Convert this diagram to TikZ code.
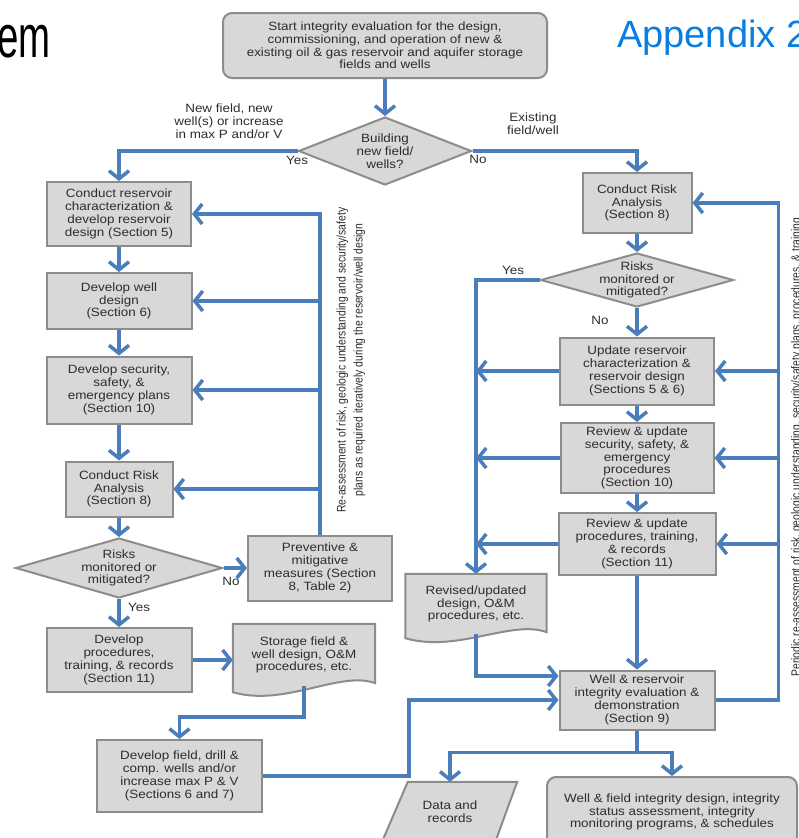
\documentclass[tikz,border=0pt]{standalone}
\usepackage{fontspec}
\setmainfont{Liberation Sans}[FakeStretch=1.12]
\newfontfamily\titlefont{Liberation Sans}
\newfontfamily\squeezefont{Liberation Sans}[FakeStretch=0.64]
\newfontfamily\narrowfont{Liberation Sans}[FakeStretch=0.83]
\usetikzlibrary{arrows.meta,shapes.geometric,calc}
\pgfdeclarelayer{bg}
\pgfsetlayers{bg,main}
\definecolor{flowblue}{RGB}{74,126,187}
\definecolor{boxgray}{RGB}{216,216,216}
\definecolor{edgegray}{RGB}{140,140,140}
\definecolor{titleblue}{RGB}{10,125,225}
\definecolor{txtgray}{RGB}{45,45,45}
\tikzset{
	box/.style={draw=edgegray, fill=boxgray, line width=2pt, align=center, inner sep=0pt, text=txtgray, font=\fontsize{12}{12.8}\selectfont},
	rbox/.style={box, rounded corners=9pt},
	decide/.style={box, diamond},
	doc/.style={align=center, inner sep=0pt, text=txtgray, font=\fontsize{12}{12.8}\selectfont},
	docshape/.style={draw=edgegray, fill=boxgray, line width=2pt},
	lbl/.style={align=center, inner sep=0pt, text=txtgray, font=\fontsize{12}{12.8}\selectfont},
	sidenote/.style={align=center, inner sep=0pt, text=txtgray, rotate=90, font=\narrowfont\fontsize{12.5}{17}\selectfont},
	wire/.style={draw=flowblue, line width=3.5pt},
	flow/.style={wire, -{Straight Barb[length=8pt,width=20pt]}},
}
\begin{document}
\begin{tikzpicture}[x=1pt,y=-1pt]
	\useasboundingbox (0,0) rectangle (798,838);
	\clip (0,0) rectangle (798,838);

	\node[anchor=base east, inner sep=0pt, font=\squeezefont\fontsize{60}{60}\selectfont] (sysword) at (51,57) {em};
	\node[anchor=base west, inner sep=0pt, text=titleblue, font=\titlefont\fontsize{38}{38}\selectfont] (appx) at (617,47) {Appendix 2};

	\node[rbox, minimum width=324, minimum height=65] (start) at (385,45.5) {Start integrity evaluation for the design,\\commissioning, and operation of new \&\\existing oil \& gas reservoir and aquifer storage\\fields and wells};
	\node[decide, minimum width=173, minimum height=68] (build) at (385,151) {};
	\node[lbl] (buildtxt) at (build) {Building\\new field/\\wells?};

	\node[box, minimum width=144, minimum height=64] (l1) at (119,214) {Conduct reservoir\\characterization \&\\develop reservoir\\design (Section 5)};
	\node[box, minimum width=145, minimum height=56] (l2) at (119,301) {Develop well\\design\\(Section 6)};
	\node[box, minimum width=145, minimum height=67] (l3) at (119,390) {Develop security,\\safety, \&\\emergency plans\\(Section 10)};
	\node[box, minimum width=107, minimum height=55] (l4) at (119,489) {Conduct Risk\\Analysis\\(Section 8)};
	\node[decide, minimum width=207, minimum height=60] (riskL) at (119,568) {};
	\node[lbl] (riskLtxt) at (riskL) {Risks\\monitored or\\mitigated?};
	\node[box, minimum width=144, minimum height=65] (prev) at (320,568) {Preventive \&\\mitigative\\measures (Section\\8, Table 2)};
	\node[box, minimum width=145, minimum height=64] (l5) at (119,660) {Develop\\procedures,\\training, \& records\\(Section 11)};
	\node[doc, minimum width=142, minimum height=62] (store) at (304,655) {Storage field \&\\well design, O\&M\\procedures, etc.};
	\node[box, minimum width=165, minimum height=72] (l6) at (179.5,776) {Develop field, drill \&\\comp. wells and/or\\increase max P \& V\\(Sections 6 and 7)};

	\node[box, minimum width=109, minimum height=60] (r1) at (637,203) {Conduct Risk\\Analysis\\(Section 8)};
	\node[decide, minimum width=193, minimum height=54] (riskR) at (637,280) {};
	\node[lbl] (riskRtxt) at (riskR) {Risks\\monitored or\\mitigated?};
	\node[box, minimum width=154, minimum height=67] (r2) at (637,371) {Update reservoir\\characterization \&\\reservoir design\\(Sections 5 \& 6)};
	\node[box, minimum width=153, minimum height=70] (r3) at (637,458) {Review \& update\\security, safety, \&\\emergency\\procedures\\(Section 10)};
	\node[box, minimum width=157, minimum height=62] (r4) at (637,544) {Review \& update\\procedures, training,\\\& records\\(Section 11)};
	\node[doc, minimum width=141, minimum height=60] (rev) at (476,604) {Revised/updated\\design, O\&M\\procedures, etc.};
	\node[box, minimum width=155, minimum height=59] (r5) at (637,700) {Well \& reservoir\\integrity evaluation \&\\demonstration\\(Section 9)};
	\node[doc, minimum width=110, minimum height=60] (data) at (450,812) {Data and\\records};
	\node[rbox, minimum width=250, minimum height=70] (final) at (672,812) {Well \& field integrity design, integrity\\status assessment, integrity\\monitoring programs, \& schedules};

	\begin{pgfonlayer}{bg}
		\draw[docshape] (store.north west) -- (store.north east) -- ($(store.south east)+(0,-3)$) .. controls +(-35,-13) and +(52,15) .. ($(store.south west)+(0,6)$) -- cycle;
		\draw[docshape] (rev.north west) -- (rev.north east) -- ($(rev.south east)+(0,-2)$) .. controls +(-35,-13) and +(52,15) .. ($(rev.south west)+(0,4)$) -- cycle;
		\draw[docshape] ($(data.north west)+(13,0)$) -- ($(data.north east)+(12,0)$) -- ($(data.south east)+(-10,0)$) -- ($(data.south west)+(-13,0)$) -- cycle;
	\end{pgfonlayer}

	\node[lbl] (newlbl) at (229,121) {New field, new\\well(s) or increase\\in max P and/or V};
	\node[lbl] (oldlbl) at (533,124) {Existing\\field/well};
	\node[lbl] (buildyes) at (297,160) {Yes};
	\node[lbl] (buildno) at (478,159) {No};
	\node[lbl] (riskLno) at (231,581) {No};
	\node[lbl] (riskLyes) at (139,607) {Yes};
	\node[lbl] (riskRyes) at (513,270) {Yes};
	\node[lbl] (riskRno) at (600,320) {No};

	\node[sidenote] (reassess) at (351,360) {Re-assessment of risk, geologic understanding and security/safety\\plans as required iteratively during the reservoir/well design};
	\node[sidenote] (periodic) at (797,447) {Periodic re-assessment of risk, geologic understanding, security/safety plans, procedures, \& training};

	\draw[flow] (start) -- (build);
	\draw[flow] (build.west) -| (l1.north);
	\draw[flow] (build.east) -| (r1.north);

	\draw[flow] (l1) -- (l2);
	\draw[flow] (l2) -- (l3);
	\draw[flow] (l3) -- (l4);
	\draw[flow] (l4) -- (riskL);
	\draw[flow] (riskL) -- (l5);
	\draw[flow] (riskL.east) -- (riskL.east -| prev.west);
	\draw[flow] (prev.north) |- (l1.east);
	\draw[flow] (prev.north |- l2.east) -- (l2.east);
	\draw[flow] (prev.north |- l3.east) -- (l3.east);
	\draw[flow] (prev.north |- l4.east) -- (l4.east);
	\draw[flow] (l5.east) -- (l5.east -| store.west);
	\draw[flow] (store.south) -- ++(0,31) -| (l6.north);
	\draw[flow] (l6.east) -- ++(146,0) |- (r5.west);

	\draw[flow] (r1) -- (riskR);
	\draw[flow] (riskR) -- (r2);
	\draw[flow] (r2) -- (r3);
	\draw[flow] (r3) -- (r4);
	\draw[flow] (r4) -- (r5);
	\draw[flow] (riskR.west) -| (rev.north);
	\draw[flow] (r2.west) -- (r2.west -| rev.north);
	\draw[flow] (r3.west) -- (r3.west -| rev.north);
	\draw[flow] (r4.west) -- (r4.west -| rev.north);
	\draw[flow] (rev.south) |- ($(r5.west)+(0,-24)$);
	\draw[flow] (r5.east) -- ++(63,0) coordinate (rloop) |- (r1.east);
	\draw[flow] (rloop |- r2.east) -- (r2.east);
	\draw[flow] (rloop |- r3.east) -- (r3.east);
	\draw[flow] (rloop |- r4.east) -- (r4.east);

	\draw[wire] (r5.south) -- ++(0,22) coordinate (split);
	\draw[flow] (split) -| (data.north);
	\draw[flow] (split) -| (final.north);
\end{tikzpicture}
\end{document}
